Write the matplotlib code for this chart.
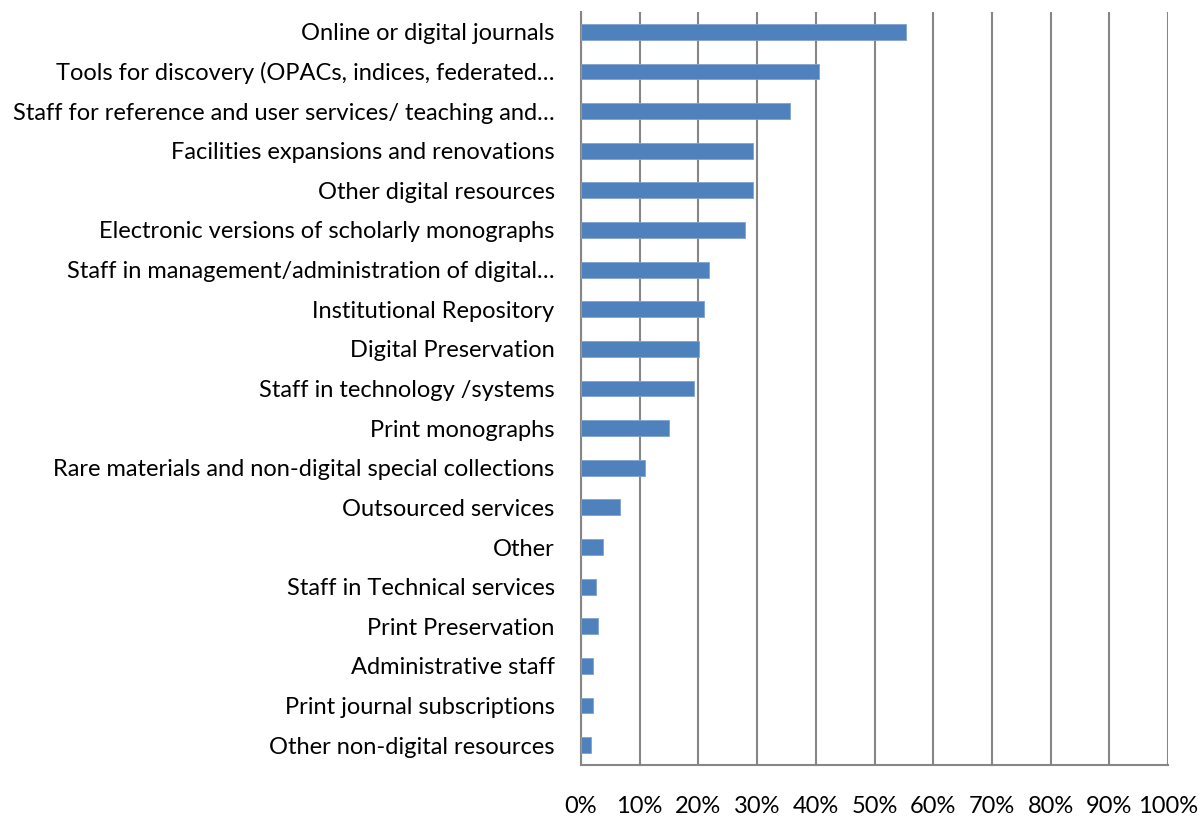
import matplotlib.pyplot as plt
from matplotlib.ticker import PercentFormatter

# Catégories (de haut en bas) et parts en %
categories = [
    'Online or digital journals',
    'Tools for discovery (OPACs, indices, federated\u2026',
    'Staff for reference and user services/ teaching and\u2026',
    'Facilities expansions and renovations',
    'Other digital resources',
    'Electronic versions of scholarly monographs',
    'Staff in management/administration of digital\u2026',
    'Institutional Repository',
    'Digital Preservation',
    'Staff in technology /systems',
    'Print monographs',
    'Rare materials and non-digital special collections',
    'Outsourced services',
    'Other',
    'Staff in Technical services',
    'Print Preservation',
    'Administrative staff',
    'Print journal subscriptions',
    'Other non-digital resources',
]
values = [55.3, 40.6, 35.6, 29.3, 29.3, 28.0, 21.8, 20.9, 20.1, 19.3,
          15.0, 10.9, 6.7, 3.75, 2.5, 2.95, 2.1, 2.1, 1.65]
xticks = list(range(0, 101, 10))

plt.rcParams['font.family'] = ['Lato', 'DejaVu Sans']

fig = plt.figure(figsize=(12.03, 8.16), dpi=100)
ax = fig.add_axes([581/1203, 1 - 765/816, 587/1203, 753/816])

pos = list(range(len(categories)))
ax.barh(pos, values, height=0.4, color='#4F81BD', edgecolor='#7FA3D1', linewidth=0.6, zorder=3)

ax.set_ylim(len(categories) - 0.5, -0.5)
ax.set_xlim(0, 100)
ax.set_xticks(xticks)
ax.xaxis.set_major_formatter(PercentFormatter(decimals=0))
ax.set_yticks(pos)
ax.set_yticklabels(categories)

ax.grid(axis='x', color='#868686', linewidth=1.5, zorder=0)
ax.tick_params(axis='x', length=0, pad=22, labelsize=17)
ax.tick_params(axis='y', length=0, pad=19, labelsize=17)
for side in ['top', 'right']:
    ax.spines[side].set_visible(False)
for side in ['left', 'bottom']:
    ax.spines[side].set_color('#868686')
    ax.spines[side].set_linewidth(1.5)

fig.savefig('out.png', dpi=100)
